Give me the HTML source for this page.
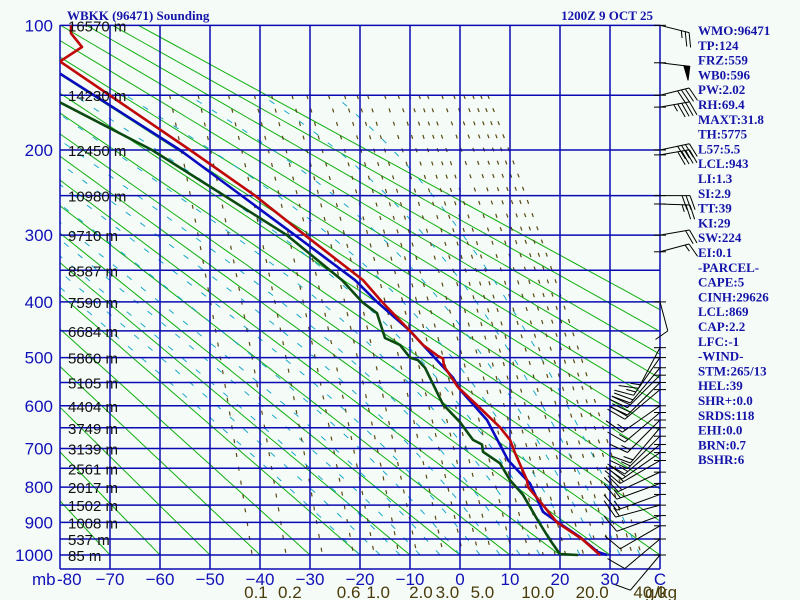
<!DOCTYPE html>
<html><head><meta charset="utf-8"><style>
html,body{margin:0;padding:0;background:#f5fbf7;}
svg{display:block;}
.ttl{font-family:"Liberation Serif",serif;font-weight:bold;font-size:13px;fill:#1414a8;}
.ax{font-family:"Liberation Sans",sans-serif;font-size:17px;fill:#1010b8;}
.ht{font-family:"Liberation Sans",sans-serif;font-size:15px;fill:#111;}
.mr{font-family:"Liberation Sans",sans-serif;font-size:17px;fill:#4a3c0c;}
</style></head><body>
<svg id="chart" width="800" height="600" viewBox="0 0 800 600" xmlns="http://www.w3.org/2000/svg">
<rect x="0" y="0" width="800" height="600" fill="#f5fbf7"/>
<defs><clipPath id="plotclip"><rect x="60" y="25" width="600" height="544"/></clipPath></defs>
<g id="bg" clip-path="url(#plotclip)"></g>
<g id="grid"></g>
<g id="prof" clip-path="url(#plotclip)"></g>
<g id="wind"></g>
<g id="labels"></g>
<text class="ttl" x="67" y="20">WBKK (96471) Sounding</text>
<text class="ttl" x="653" y="20" text-anchor="end">1200Z  9 OCT 25</text>
</svg>
<script>
// ---- data ----
const pressureLevels = [100,150,200,250,300,350,400,450,500,550,600,650,700,750,800,850,900,950,1000];
const pressureLabels = [100,200,300,400,500,600,700,800,900,1000];
const heightLabels = ["16570 m","14230 m","12450 m","10980 m","9710 m","8587 m","7590 m","6684 m","5860 m","5105 m","4404 m","3749 m","3139 m","2561 m","2017 m","1502 m","1008 m","537 m","85 m"];
const tempTicks = [-80,-70,-60,-50,-40,-30,-20,-10,0,10,20,30];
const tempTickLabels = ["-80","\u221270","\u221260","\u221250","\u221240","\u221230","\u221220","\u221210","0","10","20","30"];
const mixRatios = [0.1,0.2,0.4,0.7,1,1.5,2,3,4,5,6,8,10,12,14,16,20,24,28,32,36,40];
const mixLabels = [0.1,0.2,0.6,1.0,2.0,3.0,5.0,10.0,20.0,40.0];
const thetaC = [-90,-80,-70,-60,-50,-40,-30,-20,-10,0,10,20,30,40,50,60,70,80,90,100,110,120,130];
const thetaW = [-20,-16,-12,-8,-4,0,4,8,12,16,20,24,28,32,36];
const tempP = [100,105,114,124,200,250,300,365,400,450,476,497,502,517,560,605,649,679,711,781,800,850,900,950,1000];
const tempT = [-77.8,-77.8,-75.6,-80,-54,-41,-31,-19.4,-15.6,-10,-7.4,-4.4,-3.4,-3.2,-0.4,4,8,10,11,13.4,13.6,16.6,19.4,24.4,28];
const parcelP = [133,200,300,365,400,450,540,565,632,729,762,790,869,890,944,990,1000];
const parcelT = [-80,-56,-33,-21,-16.6,-10,-1.4,0,5.4,9.6,12,14,16.6,18.6,24,27.5,29.4];
const dewP = [156,200,300,365,400,419,463,476,500,505,520,597,637,679,690,708,737,781,821,890,953,997,1000];
const dewT = [-80,-61.6,-34.6,-23.6,-19.6,-16.6,-15,-12,-10,-8.4,-7,-3.4,0,2.6,4.4,4.6,8,10,12.6,15.4,18,20,23.6];
const windP = [100,125,150,160,200,205,250,260,300,323,400,481,500,520,535,550,565,600,615,632,650,670,690,710,730,760,790,820,850,880,910,950,1000];
const windDir = [104,97,76,80,78,80,90,92,80,75,165,208,215,220,225,225,230,235,230,225,220,225,230,235,240,245,250,250,255,250,240,230,220];
const windSpd = [25,50,40,45,40,40,30,25,20,15,10,15,15,20,20,20,20,15,15,15,15,15,15,20,20,20,15,15,15,10,10,10,10];
const statLines = ["WMO:96471","TP:124","FRZ:559","WB0:596","PW:2.02","RH:69.4","MAXT:31.8","TH:5775","L57:5.5","LCL:943","LI:1.3","SI:2.9","TT:39","KI:29","SW:224","EI:0.1","-PARCEL-","CAPE:5","CINH:29626","LCL:869","CAP:2.2","LFC:-1","-WIND-","STM:265/13","HEL:39","SHR+:0.0","SRDS:118","EHI:0.0","BRN:0.7","BSHR:6"];

// ---- scales ----
const K = 0.2857, NS = "http://www.w3.org/2000/svg";
function yP(p){ return 555 - 152.7*(Math.pow(1000,K) - Math.pow(p,K)); }
function xT(t){ return 60 + (t+80)*5; }
function mk(tag, attrs, parent){ const e=document.createElementNS(NS,tag); for(const k in attrs) e.setAttribute(k,attrs[k]); parent.appendChild(e); return e; }
function pathD(pts){ return pts.map((q,i)=>(i?"L":"M")+q[0].toFixed(1)+" "+q[1].toFixed(1)).join(""); }
function es(t){ return 6.112*Math.exp(17.67*t/(t+243.5)); }
function tdFromE(e){ const l=Math.log(e/6.112); return 243.5*l/(17.67-l); }

const bg=document.getElementById('bg'), grid=document.getElementById('grid'), prof=document.getElementById('prof'), wind=document.getElementById('wind'), labels=document.getElementById('labels');

// dry adiabats
thetaC.forEach(th=>{
  const pts=[]; for(let p=100;p<=1000;p+=10){ const T=(th+273.15)*Math.pow(p/1000,K)-273.15; pts.push([xT(T),yP(p)]); }
  const e=mk('path',{d:pathD(pts),fill:'none',stroke:'#10b010','stroke-width':1},bg);
  
  
});
// moist adiabats
thetaW.forEach(tw=>{
  let T=tw+273.15; const pts=[[xT(tw),yP(1000)]];
  for(let p=1000;p>150;p-=5){
    const e=es(T-273.15), rs=0.622*e/(p-e);
    const dTdp=(287*T+2.5e6*rs)/(p*(1004+2.5e6*2.5e6*rs*0.622/(287*T*T)));
    T-=dTdp*5; pts.push([xT(T-273.15),yP(p-5)]);
  }
  const el=mk('path',{d:pathD(pts),fill:'none',stroke:'#18a8cc','stroke-width':1,'stroke-dasharray':'6 12'},bg);
  
  
});
// mixing ratio
mixRatios.forEach(w=>{
  const pts=[]; for(let p=150;p<=1000;p+=10){ const e=w*p/(622+w); pts.push([xT(tdFromE(e)),yP(p)]); }
  const el=mk('path',{d:pathD(pts),fill:'none',stroke:'#5a4a12','stroke-width':1.2,'stroke-dasharray':'4 10'},bg);
  
  
});
// grid
pressureLevels.forEach(p=>{
  const el=mk('line',{x1:60,x2:660,y1:yP(p),y2:yP(p),stroke:'#0a0ab4','stroke-width':1.5},grid);
  
  
});
tempTicks.concat([40]).forEach(t=>{
  const el=mk('line',{x1:xT(t),x2:xT(t),y1:25,y2:569,stroke:'#0a0ab4','stroke-width':1.5},grid);
  
  
});
const fr=mk('line',{x1:60,x2:660,y1:569,y2:569,stroke:'#0a0ab4','stroke-width':1.5},grid);


// profiles
function prof1(P,T,color,name){
  const pts=P.map((p,i)=>[xT(T[i]),yP(p)]);
  const el=mk('path',{d:pathD(pts),fill:'none',stroke:color,'stroke-width':2.6,'stroke-linejoin':'round'},prof);
  
  
}
prof1(dewP,dewT,'#0a4a10','dewpoint-line');
prof1(parcelP,parcelT,'#0a0ac0','parcel-line');
prof1(tempP,tempT,'#c00808','temperature-line');
// labels
pressureLabels.forEach(p=>{
  const el=mk('text',{x:53,y:yP(p)+6,'text-anchor':'end',class:'ax'},labels); el.textContent=p;
  
  
});
pressureLevels.forEach((p,i)=>{
  const el=mk('text',{x:68,y:yP(p)+6,class:'ht'},labels); el.textContent=heightLabels[i];
  
  
});
tempTicks.forEach((t,i)=>{
  const el=mk('text',{x:i===0?57:xT(t),y:585,'text-anchor':i===0?'start':'middle',class:'ax'},labels); el.textContent=tempTickLabels[i];
  
  
});
{ const el=mk('text',{x:660,y:585,'text-anchor':'middle',class:'ax'},labels); el.textContent='C';
  
  
  const m=mk('text',{x:32,y:585,class:'ax'},labels); m.textContent='mb';
  
   }
mixLabels.forEach(w=>{
  const x=xT(tdFromE(w*1000/(622+w)))-8;
  const el=mk('text',{x:x,y:598,class:'mr'},labels); el.textContent=w.toFixed(1);
  
  
});
{ const el=mk('text',{x:645,y:598,class:'mr'},labels); el.textContent='g/kg';
  
   }
statLines.forEach((s,i)=>{
  const el=mk('text',{x:698,y:35+i*14.8,class:'ttl'},labels); el.textContent=s;
  
  
});
// wind barbs
windP.forEach((p,i)=>{
  const by=yP(p), bx=660;
  const tk=mk('line',{x1:654,x2:666,y1:by,y2:by,stroke:'#000','stroke-width':1},wind);
  
  
  const low=p>450;
  const r=windDir[i]*Math.PI/180, ux=Math.sin(r), uy=-Math.cos(r), L=low?46:30, B=low?20:15;
  const tx=bx+L*ux, ty=by+L*uy, rx=-uy, ry=ux;
  let d="M"+bx+" "+by+"L"+tx.toFixed(1)+" "+ty.toFixed(1);
  let s=Math.round(windSpd[i]/5)*5, pos=0, pen="";
  while(s>=50){ const ax=tx-pos*ux, ay=ty-pos*uy, cx=tx-(pos+6)*ux, cy=ty-(pos+6)*uy;
    pen+="M"+ax+" "+ay+"L"+(ax+14*rx)+" "+(ay+14*ry)+"L"+cx+" "+cy+"Z"; pos+=8; s-=50; }
  while(s>=10){ const ax=tx-pos*ux, ay=ty-pos*uy;
    d+="M"+ax.toFixed(1)+" "+ay.toFixed(1)+"L"+(ax+B*(rx*0.94+ux*0.34)).toFixed(1)+" "+(ay+B*(ry*0.94+uy*0.34)).toFixed(1); pos+=4; s-=10; }
  if(s>=5){ const ax=tx-pos*ux, ay=ty-pos*uy;
    d+="M"+ax.toFixed(1)+" "+ay.toFixed(1)+"L"+(ax+B/2*(rx*0.94+ux*0.34)).toFixed(1)+" "+(ay+B/2*(ry*0.94+uy*0.34)).toFixed(1); }
  const el=mk('path',{d:d,fill:'none',stroke:'#000','stroke-width':1},wind);
  
  
  if(pen){ const pe=mk('path',{d:pen,fill:'#000',stroke:'#000'},wind);
    
     }
});
</script>
</body></html>
